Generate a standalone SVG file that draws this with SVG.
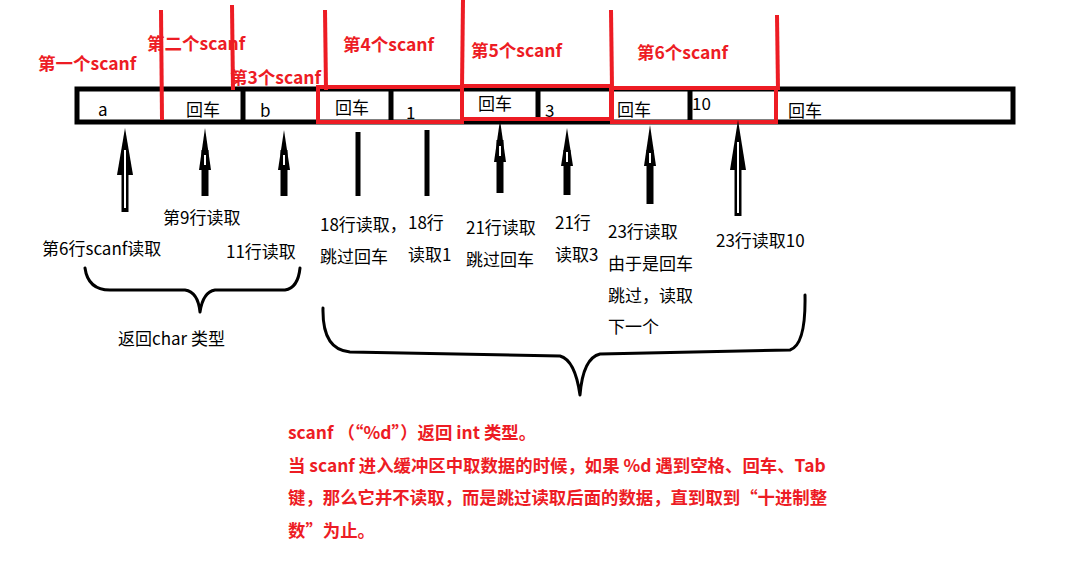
<svg xmlns="http://www.w3.org/2000/svg" width="1089" height="562" viewBox="0 0 1089 562">
<style>
text{font-family:"Microsoft YaHei","Noto Sans CJK SC",sans-serif}
.r{fill:#ed1c24;font-weight:bold;font-size:17.5px}
.k{fill:#000;font-size:17px}
.rl{stroke:#ed1c24;stroke-width:4;fill:none}
.bl{stroke:#000;stroke-width:5;fill:none}
.sh{stroke:#000;stroke-width:7;fill:none}
.hd{fill:#000}
.br{stroke:#000;stroke-width:3;fill:none;stroke-linecap:round;stroke-linejoin:round}
.note{fill:#ed1c24;font-weight:bold;font-size:17.4px}
</style>
<rect width="1089" height="562" fill="#fff"/>
<g id="buffer">
<rect x="77" y="89" width="936" height="33" class="bl"/>
<line x1="243" y1="88" x2="243" y2="124" class="bl"/>
<line x1="391" y1="88" x2="391" y2="124" class="bl"/>
<line x1="538" y1="88" x2="538" y2="120" class="bl"/>
<line x1="690" y1="88" x2="690" y2="122" class="bl"/>
<text x="98" y="116" class="k">a</text>
<text x="186" y="116" class="k">回车</text>
<text x="260" y="117" class="k">b</text>
<text x="335" y="114" class="k">回车</text>
<text x="406" y="119" class="k">1</text>
<text x="478" y="110" class="k">回车</text>
<text x="545" y="117" class="k">3</text>
<text x="617" y="116" class="k">回车</text>
<text x="692" y="110" class="k">10</text>
<text x="788" y="117" class="k">回车</text>
</g>
<g id="scanf-marks">
<line x1="161" y1="10" x2="162" y2="120" class="rl"/>
<line x1="232" y1="5" x2="233" y2="90" class="rl"/>
<line x1="325" y1="10" x2="326" y2="90" class="rl"/>
<line x1="463" y1="0" x2="462" y2="88" class="rl"/>
<line x1="611" y1="10" x2="612" y2="88" class="rl"/>
<line x1="777" y1="15" x2="778" y2="90" class="rl"/>
<rect x="318" y="87" width="144" height="35" class="rl"/>
<rect x="462" y="86" width="149" height="33" class="rl"/>
<rect x="612" y="88" width="164" height="34" class="rl"/>
<text x="38" y="70" class="r">第一个scanf</text>
<text x="147" y="50" class="r">第二个scanf</text>
<text x="230" y="84" class="r">第3个scanf</text>
<text x="343" y="51" class="r">第4个scanf</text>
<text x="471" y="57" class="r">第5个scanf</text>
<text x="637" y="59" class="r">第6个scanf</text>
</g>
<g id="connectors">
<line x1="125" y1="165" x2="125" y2="212" class="sh"/><polygon points="125,128 117,175 133,175" class="hd"/><line x1="125" y1="150" x2="125" y2="208" stroke="#fff" stroke-width="2"/>
<line x1="205" y1="150" x2="205" y2="196" class="sh"/><polygon points="205,128 199,170 211,170" class="hd"/><line x1="205" y1="155" x2="205" y2="165" stroke="#fff" stroke-width="2"/>
<line x1="284" y1="150" x2="284" y2="196" class="sh"/><polygon points="284,130 278,170 290,170" class="hd"/><line x1="284" y1="155" x2="284" y2="165" stroke="#fff" stroke-width="2"/>
<line x1="358" y1="132" x2="358" y2="196" stroke="#000" stroke-width="5"/>
<line x1="427" y1="130" x2="427" y2="196" stroke="#000" stroke-width="5"/>
<line x1="500" y1="140" x2="500" y2="193" class="sh"/><polygon points="500,120 494,162 506,162" class="hd"/><line x1="500" y1="146" x2="500" y2="156" stroke="#fff" stroke-width="2"/>
<line x1="567" y1="150" x2="567" y2="195" class="sh"/><polygon points="567,128 561,166 573,166" class="hd"/><line x1="567" y1="152" x2="567" y2="162" stroke="#fff" stroke-width="2"/>
<line x1="650" y1="150" x2="650" y2="204" class="sh"/><polygon points="650,125 644,166 656,166" class="hd"/><line x1="650" y1="153" x2="650" y2="163" stroke="#fff" stroke-width="2"/>
<line x1="738" y1="165" x2="738" y2="216" class="sh"/><polygon points="738,120 730,170 746,170" class="hd"/><line x1="738" y1="142" x2="738" y2="213" stroke="#fff" stroke-width="2"/>
<path d="M85,268 Q88,290 110,290 L185,290 Q198,292 200,312 Q203,292 215,290 L285,290 Q298,288 300,268" class="br"/>
<path d="M323,308 Q322,350 350,352 L560,356 Q575,360 580,395 Q583,358 600,354 L790,350 Q806,345 805,295" class="br"/>
</g>
<g id="labels">
<text x="163" y="224" class="k">第9行读取</text>
<text x="42" y="255" class="k">第6行scanf读取</text>
<text x="226" y="258" class="k">11行读取</text>
<text x="320" y="231" class="k">18行读取，</text>
<text x="320" y="263" class="k">跳过回车</text>
<text x="408" y="229" class="k">18行</text>
<text x="408" y="261" class="k">读取1</text>
<text x="466" y="234" class="k">21行读取</text>
<text x="466" y="266" class="k">跳过回车</text>
<text x="555" y="229" class="k">21行</text>
<text x="555" y="261" class="k">读取3</text>
<text x="608" y="238" class="k">23行读取</text>
<text x="608" y="270" class="k">由于是回车</text>
<text x="608" y="302" class="k">跳过，读取</text>
<text x="608" y="333" class="k">下一个</text>
<text x="716" y="247" class="k">23行读取10</text>
<text x="118" y="345" class="k">返回char 类型</text>
</g>
<g id="note">
<text x="288" y="439" class="note">scanf （“%d”）返回 int 类型。</text>
<text x="288" y="472" class="note">当 scanf 进入缓冲区中取数据的时候，如果 %d 遇到空格、回车、Tab</text>
<text x="288" y="504" class="note">键，那么它并不读取，而是跳过读取后面的数据，直到取到“十进制整</text>
<text x="288" y="537" class="note">数”为止。</text>
</g>
</svg>
